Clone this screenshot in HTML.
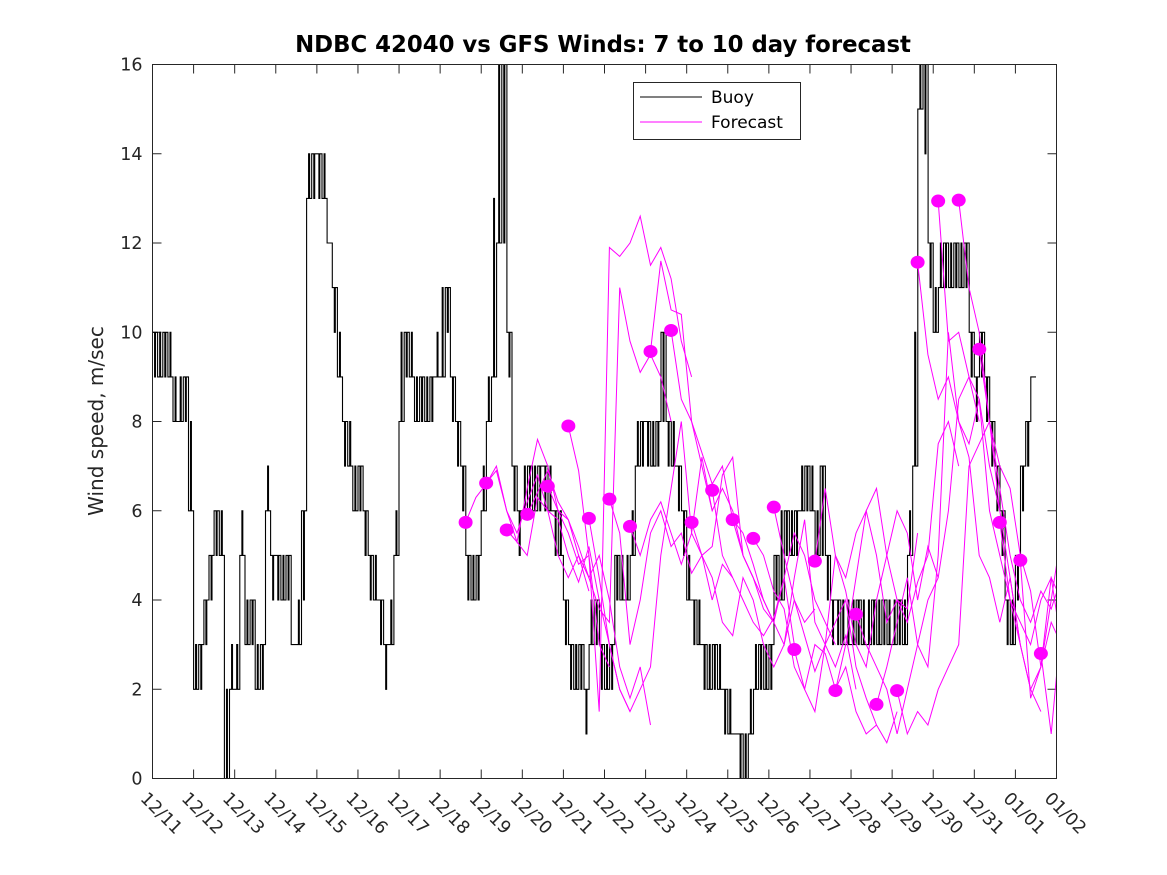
<!DOCTYPE html>
<html><head><meta charset="utf-8"><style>
body{margin:0;background:#fff;}
svg{display:block;font-family:"DejaVu Sans","Liberation Sans",sans-serif;}
</style></head><body>
<svg id="chart" width="1167" height="875" viewBox="0 0 1167 875" xmlns="http://www.w3.org/2000/svg">
<defs><clipPath id="pc"><rect x="152" y="64" width="904" height="714"/></clipPath></defs>
<rect x="0" y="0" width="1167" height="875" fill="#fff"/>
<text x="603" y="52" text-anchor="middle" font-size="22.8" font-weight="bold" fill="#000">NDBC 42040 vs GFS Winds: 7 to 10 day forecast</text>
<text transform="translate(103,421) rotate(-90)" text-anchor="middle" font-size="20" fill="#262626">Wind speed, m/sec</text>
<g id="grid"></g>
<g id="buoy" clip-path="url(#pc)"></g>
<g id="fc" clip-path="url(#pc)"></g>
<rect x="152.5" y="64.5" width="904" height="714" fill="none" stroke="#262626" stroke-width="1"/>
<g>
<rect x="633.5" y="82.5" width="167" height="57" fill="#fff" stroke="#262626"/>
<line x1="640" y1="97" x2="702" y2="97" stroke="#000" stroke-width="1"/>
<text x="711" y="103" font-size="17" fill="#000">Buoy</text>
<line x1="640" y1="122" x2="702" y2="122" stroke="#ff00ff" stroke-width="1"/>
<text x="711" y="128" font-size="17" fill="#000">Forecast</text>
</g>
</svg>
<script>
const xTickLabels=["12/11","12/12","12/13","12/14","12/15","12/16","12/17","12/18","12/19","12/20","12/21","12/22","12/23","12/24","12/25","12/26","12/27","12/28","12/29","12/30","12/31","01/01","01/02"];
const yTicks=[0,2,4,6,8,10,12,14,16];
const buoyStepDays=0.125;
const buoy=[
10,9,10,9,8,8,9,6,
2,3,4,5,6,5,0,2,
2,5,3,4,2,3,6,5,
5,4,5,3,3,6,13,14,
14,13,12,11,9,8,7,6,
7,6,5,4,4,3,3,5,
8,10,9,8,9,8,9,9,
9,11,9,8,7,5,4,5,
6,8,9,12,16,10,7,6,
6,7,6,7,7,6,6,5,
4,3,2,3,2,3,4,3,
2,3,5,4,4,5,7,8,
8,7,8,10,8,7,7,6,
4,4,3,3,2,3,2,2,
1,1,1,0,1,2,3,2,
3,5,4,6,5,6,6,7,
6,5,7,5,4,4,3,3,
3,4,3,3,4,3,4,3,
3,4,3,5,7,15,16,12,
10,11,12,11,12,11,12,10,
9,10,9,8,7,6,4,3,
5,7,8,9];
const buoyAlt=[
9,10,9,10,9,9,8,8,
3,2,3,4,5,6,2,3,
3,6,4,3,3,2,7,4,
4,5,4,3,4,4,14,13,
13,14,12,10,10,7,8,7,
6,5,4,5,3,2,4,6,
10,9,10,9,8,9,8,10,
11,10,8,7,6,4,5,4,
7,9,13,16,12,9,6,5,
7,6,7,6,6,7,5,6,
3,2,3,2,1,4,3,2,
3,2,4,5,5,6,8,7,
7,8,7,8,7,8,6,5,
5,3,4,2,3,2,3,1,
2,1,0,1,2,3,2,3,
2,4,6,5,6,5,7,6,
7,6,5,4,3,3,4,4,
4,3,4,4,3,4,3,4,
4,3,4,6,10,16,14,11,
11,12,11,12,11,12,11,9,
8,9,8,7,6,5,3,4,
4,6,7,9];
const fcStart=7.62, fcSpacing=0.5, fcStepDays=0.25;
const fc0=[5.74,6.3,6.6,7.0,6.0,5.5,6.2,6.8,6.0,5.0,4.5,5.0,4.2];
const fc1=[6.62,6.9,6.0,5.3,6.5,7.6,7.0,6.0,5.5,4.8,5.0,3.0,2.5];
const fc2=[5.57,5.3,5.0,6.3,6.0,5.8,5.0,4.4,5.2,4.0,3.0,2.0,1.5];
const fc3=[5.92,6.4,6.9,6.2,5.8,5.2,4.5,5.0,4.0,2.5,1.8,2.5,1.2];
const fc4=[6.55,6.0,5.8,5.0,4.5,3.8,3.5,11.0,9.8,9.1,9.5,9.0,8.0];
const fc5=[7.9,6.9,5.0,1.5,11.9,11.7,12.0,12.6,11.5,11.9,11.2,9.8,9.0];
const fc6=[5.83,4.5,3.0,2.0,1.5,2.0,2.5,5.0,6.5,8.0,5.5,7.2,6.0];
const fc7=[6.26,5.5,3.0,4.0,5.5,6.0,5.2,5.5,4.6,5.0,4.0,4.8,4.5];
const fc8=[5.65,5.0,5.8,6.2,5.5,4.8,5.5,5.0,5.2,6.8,7.2,5.0,4.5];
const fc9=[9.57,11.6,10.5,10.4,8.0,7.3,6.6,7.0,5.8,5.0,4.5,4.0,3.5];
const fc10=[10.04,8.5,8.0,7.0,6.0,6.5,6.0,5.0,4.5,3.8,3.5,4.5,3.0];
const fc11=[5.74,5.0,4.5,3.5,3.2,4.5,4.0,3.0,2.5,3.0,4.0,3.5,3.8];
const fc12=[6.46,5.0,4.5,4.0,3.5,3.2,3.6,4.5,5.5,5.0,4.0,3.5,3.0];
const fc13=[5.8,5.5,4.8,4.0,3.5,3.0,4.5,5.8,3.5,3.0,2.5,3.2,2.0];
const fc14=[5.38,5.0,4.2,3.8,2.5,2.0,3.0,2.8,2.0,2.5,1.5,1.0,1.2];
const fc15=[6.08,5.0,4.0,3.2,2.4,3.0,3.5,4.0,2.5,1.8,1.2,0.8,1.5];
const fc16=[2.89,2.0,1.5,3.0,5.0,4.5,5.5,6.0,5.0,3.5,4.0,3.8,5.5];
const fc17=[4.87,6.5,5.0,4.2,3.0,2.5,4.0,5.0,6.0,5.5,4.0,5.2,4.5];
const fc18=[1.97,3.0,4.5,6.0,6.5,5.0,4.0,3.5,4.4,5.0,7.5,8.0,7.0];
const fc19=[3.68,3.0,2.5,2.0,1.0,2.0,3.0,4.0,4.5,6.0,8.5,9.0,8.0];
const fc20=[1.66,2.5,3.5,4.5,3.0,2.5,5.0,10.0,8.0,7.5,8.5,7.0,6.0];
const fc21=[1.97,1.0,1.5,1.2,2.0,2.5,3.0,7.0,7.5,8.0,6.0,4.5,3.0];
const fc22=[11.57,9.5,8.5,9.0,8.0,7.2,5.0,4.5,3.5,4.5,3.0,2.0,1.5];
const fc23=[12.94,9.8,10.0,9.0,8.5,6.0,5.0,4.0,3.5,3.0,4.0,4.5,3.0];
const fc24=[12.96,11.0,10.0,8.0,7.0,6.5,5.0,4.2,2.5,3.5,3.0,1.5,2.0];
const fc25=[9.62,8.0,6.5,5.0,4.0,3.5,4.2,3.8,4.5,4.0,3.5,3.8,4.2];
const fc26=[5.74,4.0,3.0,2.0,2.5,4.0,5.5,6.5,6.8,6.0,4.5,4.0,3.8];
const fc27=[4.89,1.8,2.5,4.5,4.0,5.0,5.0,5.0,5.0,5.0,5.0,5.0,5.0];
const fc28=[2.8,1.0,3.5,2.8,3.0,3.0,3.0,3.0,3.0,3.0,3.0,3.0,3.0];
const forecasts=[fc0,fc1,fc2,fc3,fc4,fc5,fc6,fc7,fc8,fc9,fc10,fc11,fc12,fc13,fc14,fc15,fc16,fc17,fc18,fc19,fc20,fc21,fc22,fc23,fc24,fc25,fc26,fc27,fc28];

const X0=152.5,X1=1056.5,Y0=778.5,Y1=64.5;
const xs=d=>X0+(X1-X0)*d/22;
const ys=v=>Y0-(Y0-Y1)*v/16;
const NS="http://www.w3.org/2000/svg";
function mk(tag,attrs,parent){const e=document.createElementNS(NS,tag);for(const k in attrs)e.setAttribute(k,attrs[k]);parent.appendChild(e);return e;}
const grid=document.getElementById('grid');
xTickLabels.forEach((lab,i)=>{
  const x=xs(i);
  const t1=mk('line',{x1:x,y1:Y0,x2:x,y2:Y0-9,stroke:'#262626'},grid);
  
  
  const t2=mk('line',{x1:x,y1:Y1,x2:x,y2:Y1+9,stroke:'#262626'},grid);
  
  
  const tx=mk('text',{transform:`translate(${x-13},${Y0+21}) rotate(45)`,'font-size':17.5,fill:'#262626'},grid);
  tx.textContent=lab;
  
  
});
yTicks.forEach(v=>{
  const y=ys(v);
  const a=mk('line',{x1:X0,y1:y,x2:X0+9,y2:y,stroke:'#262626'},grid);
  
  
  const b=mk('line',{x1:X1,y1:y,x2:X1-9,y2:y,stroke:'#262626'},grid);
  
  
  const tx=mk('text',{x:X0-10,y:y+6,'text-anchor':'end','font-size':17.5,fill:'#262626'},grid);
  tx.textContent=v;
  
  
});
function stepPath(arr){
  let d=`M${xs(0).toFixed(1)},${ys(arr[0]).toFixed(1)}`;
  for(let i=0;i<arr.length;i++){
    const t=i*buoyStepDays;
    d+=`V${ys(arr[i]).toFixed(1)}H${xs(t+buoyStepDays).toFixed(1)}`;
  }
  return d;
}
const bg=document.getElementById('buoy');
const p1=mk('path',{d:stepPath(buoy),fill:'none',stroke:'#000','stroke-width':1.1},bg);


let d2='';
for(let i=0;i<buoyAlt.length;i++){
  if(buoyAlt[i]===buoy[i]) continue;
  const t=(i+0.4)*buoyStepDays;
  const x=xs(t),x2=xs(t+buoyStepDays*0.18);
  d2+=`M${x.toFixed(1)},${ys(buoy[i]).toFixed(1)}V${ys(buoyAlt[i]).toFixed(1)}H${x2.toFixed(1)}V${ys(buoy[i]).toFixed(1)}`;
}
const p2=mk('path',{d:d2,fill:'none',stroke:'#000','stroke-width':1.1},bg);


const fg=document.getElementById('fc');
forecasts.forEach((arr,k)=>{
  const s=fcStart+k*fcSpacing;
  const pts=arr.map((v,i)=>`${xs(s+i*fcStepDays).toFixed(1)},${ys(v).toFixed(1)}`).join(' ');
  const pl=mk('polyline',{points:pts,fill:'none',stroke:'#ff00ff','stroke-width':1},fg);
  
  
});
forecasts.forEach((arr,k)=>{
  const s=fcStart+k*fcSpacing;
  const c=mk('ellipse',{cx:xs(s),cy:ys(arr[0]),rx:7,ry:6.5,fill:'#ff00ff'},fg);
  
  
});
</script>
</body></html>
